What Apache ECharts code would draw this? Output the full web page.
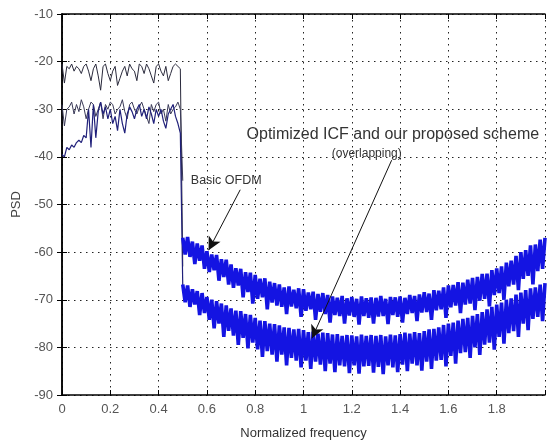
<!DOCTYPE html>
<html><head><meta charset="utf-8">
<script src="https://cdn.jsdelivr.net/npm/echarts@6/dist/echarts.min.js"></script>
<style>html,body{margin:0;padding:0;background:#fff}#c{width:548px;height:446px}</style>
</head><body><div id="c"></div>
<script>
// ---- data ----
const xTicks = [0, 0.2, 0.4, 0.6, 0.8, 1, 1.2, 1.4, 1.6, 1.8];
const yTicks = [-10, -20, -30, -40, -50, -60, -70, -80, -90];
const leftStart = 0.0, bandStart = 0.5, freqStep = 0.01;

// in-band part (0 .. 0.5), last value = drop at band edge
const basicLeft = [
 -20.5,-24.5,-21,-21.5,-20.5,-22,-21,-21.5,-22.5,-21,
 -20.5,-22,-24,-21.5,-20.5,-23,-26,-21,-20.5,-22.5,
 -24,-22,-21,-25,-23.5,-22,-21,-23,-20.5,-21.5,
 -22,-24,-20.5,-21,-22.5,-20.5,-21.5,-23,-24.5,-21,
 -20.5,-22,-23,-21,-24,-22.5,-21,-20.5,-21,-21.5,
 -63];
const icfLeft = [
 -29,-33.5,-30,-29.5,-28.5,-31,-29,-30.5,-28,-29.5,
 -32,-30,-28.5,-29,-31.5,-30,-28.5,-32,-29,-30,
 -28.5,-29,-31,-30,-29.5,-28,-30.5,-32,-29,-28.5,
 -30,-31,-29.5,-28.5,-30,-31.5,-33,-29,-30.5,-29,
 -28.5,-31,-30,-32.5,-29,-31,-30,-29.5,-28.5,-30,
 -45];
const schemeLeft = [
 -39.5,-40,-38,-38.5,-37.5,-38,-37,-36.5,-37,-35.5,
 -36,-30,-38,-29,-36,-30.5,-28.5,-31,-29.5,-32,
 -30,-33,-31.5,-34.5,-30,-33,-35,-31,-29.5,-30.5,
 -32,-30,-29,-31.5,-30,-32,-29.5,-31,-33,-30,
 -31.5,-30,-32.5,-34,-31,-30,-29,-31.5,-33,-35,
 -67];

// out-of-band part (0.5 .. 2.0)
const basicBand = [
 -57,-60.5,-56.8,-61,-57.8,-62.5,-58.2,-61.8,-58.6,-63.5,
 -59.8,-64.2,-60.5,-63.8,-60.6,-66,-61.5,-65.2,-61.6,-66.8,
 -62.6,-67.5,-63.4,-67,-63.5,-69.5,-64.2,-68.4,-64.3,-70.8,
 -64.8,-69.8,-65.6,-69.5,-65.5,-72,-66.2,-70.6,-66.5,-71.2,
 -66.8,-71.5,-67.4,-73,-67.2,-71.4,-67.9,-71.8,-67.6,-73.6,
 -67.8,-72.3,-68.5,-72,-68.3,-74.2,-68.8,-72.5,-68.6,-73,
 -69,-74.8,-69.3,-73.2,-69.6,-73.4,-69.2,-75,-69.7,-73.3,
 -69.4,-73.6,-69.8,-75.2,-69.3,-73.4,-69.7,-73.8,-69.5,-75,
 -69.6,-73.5,-69.2,-73.4,-69.8,-75.1,-69.4,-73.2,-69.5,-73.6,
 -69.3,-74.8,-69.6,-73,-69,-72.8,-69.2,-74.5,-68.9,-72.7,
 -68.4,-72.6,-68.7,-74.2,-68,-72.2,-68.1,-72,-67.4,-73.8,
 -67,-71.6,-66.9,-71.2,-66.3,-72.8,-66.4,-71,-65.8,-70.8,
 -65.4,-72.2,-65.2,-70.2,-64.6,-69.8,-64.5,-71.4,-63.8,-69,
 -63.4,-68.6,-63,-70,-62.2,-67.2,-61.8,-66.8,-60.8,-68,
 -60,-65.6,-59.6,-65,-58.6,-66.8,-58.4,-64,-57.4,-63.5,
 -57];
const schemeBand = [
 -66.8,-70.5,-67,-71.5,-67.8,-71,-68.2,-73.2,-68.6,-72.8,
 -69.4,-74.2,-70,-76,-70.3,-75,-70.8,-77.8,-71.2,-76.5,
 -71.8,-77.5,-72.3,-79.5,-72.4,-78,-73,-80.2,-73.2,-79,
 -73.8,-80.4,-74.4,-82,-74.5,-80.8,-75,-81.5,-75.1,-83,
 -75.4,-81.5,-75.8,-83.8,-75.9,-82.2,-76.2,-82.8,-76.1,-84.2,
 -76.4,-82.8,-76.8,-84.5,-76.7,-83,-77.1,-83.6,-76.9,-85,
 -77,-83.4,-77.3,-85.2,-77.2,-83.8,-77.6,-84,-77.4,-85.4,
 -77.5,-83.8,-77.7,-85.5,-77.3,-84,-77.6,-83.9,-77.4,-85.3,
 -77.6,-84.1,-77.4,-85.6,-77.7,-83.8,-77.3,-84.2,-77.5,-85.2,
 -77.2,-83.6,-76.9,-85,-77.1,-83.4,-76.8,-83.8,-77,-84.9,
 -76.6,-83,-76.2,-84.5,-76.1,-82.8,-75.8,-82.6,-75.3,-84,
 -75,-81.8,-74.8,-83.4,-74.4,-81.2,-74,-81,-73.8,-82.2,
 -73.4,-80,-73,-81.6,-72.6,-79.4,-72,-79,-71.5,-80.5,
 -71,-77.8,-70.6,-79.2,-70,-77,-69.7,-76.6,-68.9,-77.8,
 -68.5,-75,-68,-76.4,-67.6,-74,-67.4,-73.6,-66.8,-74.5,
 -66.5];

// annotation texts and arrows (data coordinates)
const notes = [
  {text: 'Basic OFDM', at: [0.68, -44.9], size: 12.5},
  {text: 'Optimized ICF and our proposed scheme', at: [1.37, -35.4], size: 16},
  {text: '(overlapping)', at: [1.262, -39.3], size: 12}
];
const arrows = [
  [[0.738, -46.9], [0.607, -59.6]],
  [[1.365, -40.7], [1.035, -78.1]]
];

// ---- chart ----
function pairs(start, vals) {
  return vals.map((v, i) => [+(start + i * freqStep).toFixed(3), v]);
}
const font = "'Liberation Sans', Arial, sans-serif";
const chart = echarts.init(document.getElementById('c'), null, {renderer: 'canvas'});
const grid = {left: 62, top: 14, right: 1, bottom: 51};
const split = {show: true, lineStyle: {color: '#222', width: 1, type: [1.5, 4.5]}};
const axisLine = {show: true, lineStyle: {color: '#000', width: 1.5}};
const tick = {show: true, inside: true, length: 5, lineStyle: {color: '#000'}};
chart.setOption({
  animation: false,
  backgroundColor: '#fff',
  grid: grid,
  xAxis: [{
    type: 'value', min: 0, max: 2, interval: 0.2,
    name: 'Normalized frequency', nameLocation: 'middle', nameGap: 32,
    nameTextStyle: {fontFamily: font, fontSize: 13, color: '#333'},
    axisLine: axisLine, axisTick: tick, splitLine: split,
    axisLabel: {fontFamily: font, fontSize: 13, color: '#555', margin: 8,
      formatter: v => (xTicks.some(t => Math.abs(t - v) < 1e-6) ? String(+v.toFixed(1)) : '')}
  }, {
    type: 'value', position: 'top', min: 0, max: 2, interval: 0.2,
    axisLine: axisLine, axisTick: tick, axisLabel: {show: false}, splitLine: {show: false}
  }],
  yAxis: [{
    type: 'value', min: -90, max: -10, interval: 10,
    name: 'PSD', nameLocation: 'middle', nameGap: 38, nameRotate: 90,
    nameTextStyle: {fontFamily: font, fontSize: 13, color: '#444'},
    axisLine: axisLine, axisTick: tick, splitLine: split,
    axisLabel: {fontFamily: font, fontSize: 13, color: '#555', margin: 9,
      formatter: v => (yTicks.includes(v) ? String(v) : '')}
  }, {
    type: 'value', position: 'right', min: -90, max: -10, interval: 10,
    axisLine: axisLine, axisTick: tick, axisLabel: {show: false}, splitLine: {show: false}
  }],
  series: [
    {type: 'line', data: pairs(leftStart, basicLeft), showSymbol: false,
      lineStyle: {color: '#2a2a3c', width: 1}},
    {type: 'line', data: pairs(leftStart, icfLeft), showSymbol: false,
      lineStyle: {color: '#3a3a58', width: 1}},
    {type: 'line', data: pairs(leftStart, schemeLeft), showSymbol: false,
      lineStyle: {color: '#20207a', width: 1.2}},
    {type: 'line', data: pairs(bandStart, basicBand), showSymbol: false,
      lineStyle: {color: '#1414e2', width: 3.6, join: 'bevel'}},
    {type: 'line', data: pairs(bandStart, schemeBand), showSymbol: false,
      lineStyle: {color: '#1414e2', width: 3.6, join: 'bevel'},
      markLine: {silent: true, symbol: ['none', 'arrow'], symbolSize: [10, 13],
        label: {show: false},
        lineStyle: {color: '#111', width: 1, type: 'solid'},
        data: arrows.map(a => [{coord: a[0]}, {coord: a[1]}])}}
  ]
});
chart.setOption({
  graphic: notes.map(n => {
    const p = chart.convertToPixel({xAxisIndex: 0, yAxisIndex: 0}, n.at);
    return {type: 'text', x: p[0], y: p[1], silent: true,
      style: {text: n.text, fontFamily: font, fontSize: n.size, fill: '#333',
        align: 'center', verticalAlign: 'middle'}};
  })
});
</script>
</body></html>
